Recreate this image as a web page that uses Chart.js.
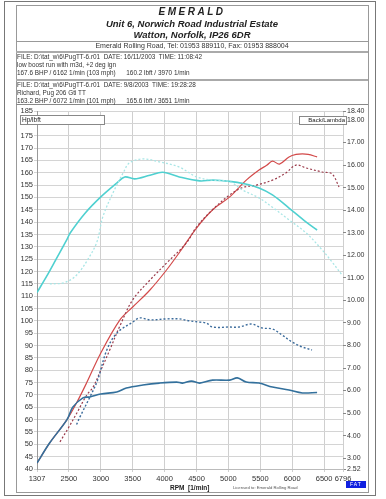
<!DOCTYPE html>
<html>
<head>
<meta charset="utf-8">
<script src="https://cdn.jsdelivr.net/npm/chart.js@4.4.1/dist/chart.umd.min.js"></script>
<style>
    body { margin: 0; width: 386px; height: 499px; overflow: hidden; background: #fff; position: relative;
           font-family: "Liberation Sans", Arial, sans-serif; color: #222; }
    #chart { position: absolute; left: 0; top: 0; z-index: 1; }
    .abs { position: absolute; z-index: 2; white-space: nowrap; }
    .frame { position: absolute; z-index: 0; }
    .hdr { left: 16px; width: 352px; text-align: center; font-weight: bold; font-style: italic; }
    .info { left: 17px; font-size: 6.4px; line-height: 8px; color: #333; }
</style>
</head>
<body>
<div class="frame" style="left:4px;top:1px;width:370px;height:493px;border:1px solid #777;"></div>
<div class="frame" style="left:16px;top:5px;width:351px;height:486px;border:1px solid #999;"></div>
<div class="frame" style="left:16px;top:41px;width:352px;height:1px;background:#999;"></div>
<div class="frame" style="left:16px;top:51px;width:352px;height:2px;background:#aaa;"></div>
<div class="frame" style="left:16px;top:79px;width:352px;height:2px;background:#aaa;"></div>
<div class="frame" style="left:16px;top:104px;width:352px;height:1px;background:#888;"></div>

<div class="abs hdr" style="top:6px;font-size:10px;letter-spacing:2.5px;">EMERALD</div>
<div class="abs hdr" style="top:18px;font-size:9.5px;">Unit 6, Norwich Road Industrial Estate</div>
<div class="abs hdr" style="top:29px;font-size:9.5px;">Watton, Norfolk, IP26 6DR</div>
<div class="abs hdr" style="top:42px;font-size:7px;font-weight:normal;font-style:normal;color:#333;">Emerald Rolling Road, Tel: 01953 889110, Fax: 01953 888004</div>

<div class="abs info" style="top:53px;">FILE: D:\tat_w\6\PugTT-6.r01&nbsp; DATE: 16/11/2003&nbsp; TIME: 11:08:42<br>low boost run with m3d, +2 deg ign<br>167.6 BHP / 6162 1/min (103 mph)&nbsp;&nbsp;&nbsp;&nbsp;&nbsp; 160.2 lbft / 3970 1/min</div>
<div class="abs info" style="top:81px;">FILE: D:\tat_w\6\PugTT-6.r01&nbsp; DATE: 9/8/2003&nbsp; TIME: 19:28:28<br>Richard, Pug 206 Gti TT<br>163.2 BHP / 6072 1/min (101 mph)&nbsp;&nbsp;&nbsp;&nbsp;&nbsp; 165.6 lbft / 3651 1/min</div>

<div class="abs" style="left:20px;top:115px;width:82px;height:8px;border:1px solid #888;background:#fff;font-size:6.5px;line-height:8px;padding-left:1px;">Hp/lbft</div>
<div class="abs" style="left:299px;top:116px;width:45px;height:7px;border:1px solid #888;background:#fff;font-size:6px;line-height:7px;text-align:right;padding-right:1px;">Back/Lambda</div>

<div class="abs" style="left:170px;top:484px;font-size:6.5px;font-weight:bold;">RPM&nbsp; [1/min]</div>
<div class="abs" style="left:233px;top:485px;font-size:4.2px;color:#555;">Licensed to: Emerald Rolling Road</div>
<div class="abs" style="left:346px;top:481px;width:20px;height:7px;background:#1020e0;color:#fff;font-size:5px;line-height:7px;text-align:center;letter-spacing:1px;">FAT</div>

<canvas id="chart" width="386" height="499"></canvas>

<script>
// x tick positions, the first one is printed as the run start rpm
const rpmTicks = [2000, 2500, 3000, 3500, 4000, 4500, 5000, 5500, 6000, 6500, 6796];
const rpmTickLabels = ['1307', '2500', '3000', '3500', '4000', '4500', '5000', '5500', '6000', '6500', '6796'];
const lambdaTicks = [2.52, 3, 4, 5, 6, 7, 8, 9, 10, 11, 12, 13, 14, 15, 16, 17, 18, 18.4];

// run 1 (16/11/2003) - solid lines
const run1PowerRpm = [2000, 2200, 2470, 2625, 2780, 3000, 3300, 3500, 3770, 4030, 4240, 4500, 4750, 5020, 5280, 5480, 5600, 5690, 5800, 5950, 6060, 6160, 6250, 6390];
const run1Power    = [42.4, 50.6, 60, 67, 75, 87, 100.4, 105.6, 112.5, 120.6, 128, 137.6, 144.9, 150.2, 157, 161.1, 163, 164.7, 163.5, 166.4, 167.4, 167.6, 167.4, 166.4];
const run1TorqueRpm = [2000, 2150, 2300, 2470, 2520, 2750, 3000, 3250, 3375, 3530, 3770, 3970, 4230, 4550, 4750, 5020, 5250, 5480, 5690, 5950, 6220, 6390];
const run1Torque    = [111.5, 118, 125, 133, 135.6, 143.5, 150.2, 155.8, 158.3, 157.5, 159, 160.2, 158.3, 156.7, 157, 156.5, 155.5, 153.8, 151, 145.7, 140, 136.8];
const run1LowerRpm = [2000, 2200, 2470, 2560, 2720, 2830, 3000, 3250, 3400, 3660, 3920, 4190, 4280, 4420, 4550, 4750, 5020, 5140, 5280, 5480, 5690, 5950, 6160, 6390];
const run1Lower    = [42.4, 50.6, 60, 65, 68.8, 69.2, 70.4, 71.2, 72.8, 74, 74.8, 75.2, 74.8, 75.6, 74.8, 76, 76, 76.9, 75.2, 74.8, 73.2, 72, 70.8, 71];

// run 2 (9/8/2003) - dotted lines
const run2PowerRpm = [2360, 2500, 2625, 2780, 2875, 3000, 3140, 3300, 3500, 3770, 4030, 4340, 4500, 4750, 5020, 5220, 5440, 5690, 5900, 6060, 6220, 6470, 6625, 6734];
const run2Power    = [51, 57, 62.7, 70, 73, 80, 88.2, 98, 108.5, 116.5, 123.4, 131.5, 138, 145, 151, 154, 155, 157, 159.9, 163.1, 161.9, 160.3, 159.5, 154.2];
const run2TorqueRpm = [2200, 2400, 2550, 2670, 2800, 2940, 3030, 3190, 3350, 3450, 3660, 3920, 4230, 4500, 4750, 5020, 5220, 5480, 5690, 5950, 6220, 6470, 6620, 6780];
const run2Torque    = [115, 115.3, 117, 120, 125, 132, 142, 151.8, 159.9, 164, 165.6, 164.4, 162.3, 158.3, 157, 156.4, 153, 149.8, 146, 140.9, 135.6, 128.7, 124, 118.6];
const run2LowerRpm = [2620, 2672, 2830, 2950, 3094, 3250, 3500, 3610, 3770, 4030, 4230, 4390, 4550, 4656, 4750, 5020, 5170, 5360, 5530, 5690, 5840, 6000, 6160, 6310];
const run2Lower    = [58, 61, 69.2, 76, 88.2, 95, 99.5, 101.2, 100.4, 100.8, 100.8, 100, 99.5, 99.1, 97.5, 97.5, 97.5, 98.7, 97.1, 96.7, 94.3, 91.4, 89.4, 88.2];

function pts(xs, ys) {
    return xs.map((x, i) => ({ x: x, y: ys[i] }));
}

function line(xs, ys, color, dotted, width) {
    return {
        data: pts(xs, ys),
        borderColor: color,
        borderWidth: width,
        borderDash: dotted ? [2, 2] : [],
        pointRadius: 0,
        tension: 0.35,
        fill: false,
        yAxisID: 'y'
    };
}

const tickFont = { family: 'Liberation Sans', size: 7.5 };

new Chart(document.getElementById('chart').getContext('2d'), {
    type: 'line',
    data: {
        datasets: [
            line(run2TorqueRpm, run2Torque, '#a9e6e6', true, 1.3),
            line(run1TorqueRpm, run1Torque, '#4fd0d0', false, 1.6),
            line(run2LowerRpm, run2Lower, '#3c6c9c', true, 1.4),
            line(run1LowerRpm, run1Lower, '#33709c', false, 1.6),
            line(run2PowerRpm, run2Power, '#9b3b4b', true, 1.2),
            line(run1PowerRpm, run1Power, '#d34a4a', false, 1.2)
        ]
    },
    options: {
        responsive: false,
        animation: false,
        events: [],
        layout: { padding: { top: 111, left: 0, right: 0, bottom: 0 } },
        plugins: { legend: { display: false }, tooltip: { enabled: false } },
        scales: {
            x: {
                type: 'linear',
                min: 2000,
                max: 6796,
                afterBuildTicks: s => { s.ticks = rpmTicks.map(v => ({ value: v })); },
                afterFit: s => { s.height = 30; },
                ticks: {
                    font: tickFont,
                    color: '#333',
                    padding: 2,
                    maxRotation: 0,
                    autoSkip: false,
                    callback: v => rpmTickLabels[rpmTicks.indexOf(v)]
                },
                grid: { color: '#cfcfcf', tickLength: 3, lineWidth: 1 },
                border: { color: '#bbb' }
            },
            y: {
                position: 'left',
                min: 40,
                max: 185,
                afterFit: s => { s.width = 37; },
                ticks: { stepSize: 5, font: tickFont, color: '#333', padding: 1 },
                grid: { color: '#d4d4d4', tickLength: 3 },
                border: { color: '#999' }
            },
            y2: {
                position: 'right',
                min: 2.52,
                max: 18.4,
                afterBuildTicks: s => { s.ticks = lambdaTicks.map(v => ({ value: v })); },
                afterFit: s => { s.width = 43; },
                ticks: {
                    font: { family: 'Liberation Sans', size: 7 },
                    color: '#333',
                    padding: 1,
                    callback: v => v.toFixed(2)
                },
                grid: { drawOnChartArea: false, tickLength: 3, color: '#888' },
                border: { display: false }
            }
        }
    }
});
</script>
</body>
</html>
